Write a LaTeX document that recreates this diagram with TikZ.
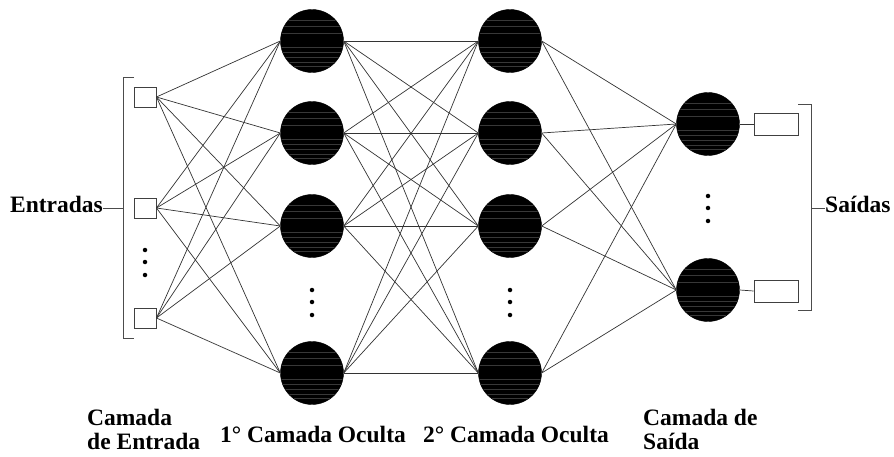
\documentclass[tikz,border=0pt]{standalone}
\usepackage{fontspec}
\newfontfamily\capfont{Liberation Serif}
\begin{document}
\begin{tikzpicture}[x=1pt,y=-1pt,
  neuron/.style={circle,fill=black,draw=black,minimum size=63pt,inner sep=0pt,
    path picture={\foreach \d in {-25,-21,-16,-11,-6,8,15,21}
      \draw[black!78,line width=0.4pt] ([yshift=\d pt]path picture bounding box.west) -- ++(64pt,0);}},
  inbox/.style={rectangle,draw=black!75,line width=0.9pt,minimum width=22pt,minimum height=20pt,inner sep=0pt},
  outbox/.style={rectangle,draw=black!75,line width=0.9pt,minimum width=44pt,minimum height=22pt,inner sep=0pt},
  link/.style={draw=black!80,line width=0.7pt},
  brack/.style={draw=black!70,line width=0.9pt},
  dotmark/.style={circle,fill=black,minimum size=4.5pt,inner sep=0pt},
  lbl/.style={font=\capfont\bfseries\fontsize{23.5}{23.5}\selectfont,inner sep=0pt,align=left}]
\useasboundingbox (0,0) rectangle (894,457);

% input layer
\node[inbox] (i1) at (145,97) {};
\node[inbox] (i2) at (145,208) {};
\node[inbox] (i3) at (145,318) {};
\foreach \y/\n in {250/a,262/b,275/c} \node[dotmark] (di\n) at (145,\y) {};

% first hidden layer
\node[neuron] (a1) at (312,41) {};
\node[neuron] (a2) at (312,133) {};
\node[neuron] (a3) at (312,226) {};
\node[neuron] (a4) at (312,373) {};
\foreach \y/\n in {290/a,302/b,315/c} \node[dotmark] (da\n) at (312,\y) {};

% second hidden layer
\node[neuron] (b1) at (510,41) {};
\node[neuron] (b2) at (510,133) {};
\node[neuron] (b3) at (510,226) {};
\node[neuron] (b4) at (510,373) {};
\foreach \y/\n in {290/a,302/b,315/c} \node[dotmark] (db\n) at (510,\y) {};

% output layer
\node[neuron] (o1) at (708,124) {};
\node[neuron] (o2) at (708,290) {};
\foreach \y/\n in {196/a,208/b,221/c} \node[dotmark] (do\n) at (708,\y) {};
\node[outbox] (r1) at (776,124) {};
\node[outbox] (r2) at (776,291) {};

% connections
\foreach \i in {1,2,3} \foreach \j in {1,2,3,4} \draw[link] (i\i.east) -- (a\j.west);
\foreach \i in {1,2,3,4} \foreach \j in {1,2,3,4} \draw[link] (a\i.east) -- (b\j.west);
\foreach \i in {1,2,3,4} \foreach \j in {1,2} \draw[link] (b\i.east) -- (o\j.west);
\draw[link] (o1.east) -- (r1.west);
\draw[link] (o2.east) -- (r2.west);

% brackets
\coordinate (lbt) at (123,77);
\coordinate (lbb) at (123,338);
\coordinate (lbm) at (123,208);
\draw[brack] (134,77) -- (lbt) -- (lbb) -- (134,338);
\coordinate (rbt) at (811,104);
\coordinate (rbb) at (811,310);
\coordinate (rbm) at (811,208);
\draw[brack] (r1.east |- rbt) -- (rbt) -- (rbb) -- (r2.east |- rbb);

% group labels
\node[lbl,anchor=base east] (ent) at (103,213) {Entradas};
\draw[brack] (lbm) -- (ent.east |- lbm);
\node[lbl,anchor=base west] (sai) at (825,213) {Saídas};
\draw[brack] (rbm) -- (sai.west |- rbm);

% layer captions
\node[lbl,anchor=base west] (c1) at (87,449) {Camada\\de Entrada};
\node[lbl,anchor=base west] (c2) at (220,442) {1° Camada Oculta};
\node[lbl,anchor=base west] (c3) at (423,442) {2° Camada Oculta};
\node[lbl,anchor=base west] (c4) at (643,449) {Camada de\\Saída};
\end{tikzpicture}
\end{document}
